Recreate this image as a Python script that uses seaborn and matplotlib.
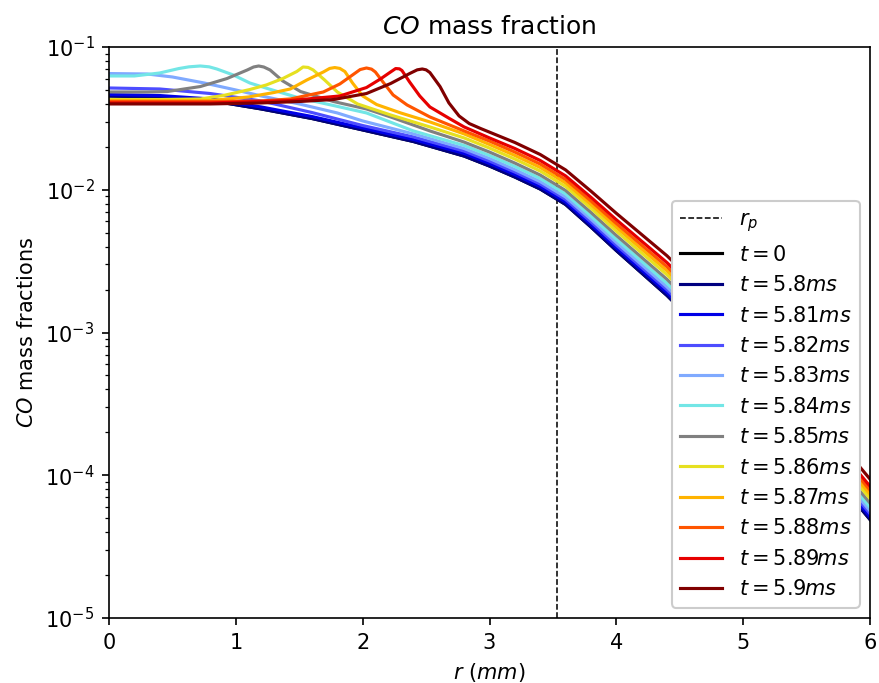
import numpy as np
import matplotlib
matplotlib.use("Agg")
import matplotlib.pyplot as plt
import seaborn as sns

# radial position of the particle surface (mm)
r_p = 3.53

labels = ["$t=0$", "$t=5.8ms$", "$t=5.81ms$", "$t=5.82ms$", "$t=5.83ms$",
          "$t=5.84ms$", "$t=5.85ms$", "$t=5.86ms$", "$t=5.87ms$",
          "$t=5.88ms$", "$t=5.89ms$", "$t=5.9ms$"]
colors = ["black", "#000080", "#0000e6", "#4d4dff", "#80aaff", "#73e6e6",
          "#808080", "#e6e020", "#ffb300", "#ff5500", "#e60000", "#800000"]

# r (mm) and log10(CO mass fraction)
r_580 = [0, 0.4, 0.8, 1.2, 1.6, 2.0, 2.4, 2.8, 3.0, 3.2, 3.4, 3.6, 3.8, 4.0,
         4.4, 5.0, 5.5, 6.0]
logy_580 = [-1.343, -1.350, -1.375, -1.434, -1.501, -1.581, -1.662, -1.764,
            -1.834, -1.911, -1.995, -2.103, -2.261, -2.426, -2.741, -3.273,
            -3.778, -4.310]

r_t0 = r_580
logy_t0 = logy_580

r_581 = [0, 0.4, 0.8, 1.2, 1.6, 2.0, 2.4, 2.8, 3.0, 3.2, 3.4, 3.6, 3.8, 4.0,
         4.4, 5.0, 5.5, 6.0]
logy_581 = [-1.333, -1.340, -1.364, -1.420, -1.487, -1.567, -1.648, -1.746,
            -1.816, -1.894, -1.978, -2.086, -2.243, -2.407, -2.721, -3.252,
            -3.757, -4.290]

r_582 = [0, 0.4, 0.8, 1.2, 1.6, 2.0, 2.4, 2.8, 3.0, 3.2, 3.4, 3.6, 3.8, 4.0,
         4.4, 5.0, 5.5, 6.0]
logy_582 = [-1.287, -1.294, -1.326, -1.378, -1.459, -1.550, -1.630, -1.729,
            -1.799, -1.876, -1.960, -2.068, -2.225, -2.388, -2.701, -3.232,
            -3.737, -4.269]

r_583 = [0, 0.3, 0.5, 0.75, 1.0, 1.2, 1.5, 1.8, 2.0, 2.4, 2.8, 3.0,
         3.2, 3.4, 3.6, 3.8, 4.0, 4.4, 5.0, 5.5, 6.0]
logy_583 = [-1.186, -1.189, -1.210, -1.252, -1.301, -1.343, -1.399, -1.462,
            -1.518, -1.609, -1.711, -1.781,
            -1.859, -1.943, -2.051, -2.206, -2.369, -2.681, -3.212, -3.717, -4.249]

r_584 = [0, 0.2, 0.4, 0.55, 0.63, 0.72, 0.79, 0.85, 0.98, 1.11, 1.25, 1.5,
         1.77, 2.03, 2.4, 2.8, 3.0, 3.2, 3.4, 3.6, 3.8, 4.0, 4.4, 5.0, 5.5, 6.0]
logy_584 = [-1.203, -1.203, -1.182, -1.151, -1.139, -1.133, -1.139, -1.154,
            -1.196, -1.252, -1.291, -1.357, -1.410, -1.462, -1.588, -1.690,
            -1.760, -1.837, -1.921, -2.029, -2.185, -2.347, -2.656, -3.187,
            -3.692, -4.224]

r_585 = [0, 0.3, 0.46, 0.72, 0.93, 1.09, 1.14, 1.18, 1.22, 1.27, 1.37, 1.51,
         1.77, 2.03, 2.22, 2.53, 2.8, 3.0, 3.2, 3.4, 3.6, 3.8, 4.0, 4.4, 5.0,
         5.5, 6.0]
logy_585 = [-1.315, -1.315, -1.312, -1.277, -1.221, -1.161, -1.140, -1.133,
            -1.140, -1.161, -1.238, -1.312, -1.382, -1.434, -1.490, -1.588,
            -1.666, -1.736, -1.813, -1.897, -2.005, -2.159, -2.320, -2.628,
            -3.158, -3.663, -4.195]

r_586 = [0, 0.4, 0.72, 0.9, 1.11, 1.24, 1.37, 1.48, 1.53, 1.57, 1.61, 1.7,
         1.8, 1.96, 2.22, 2.53, 2.8, 3.0, 3.2, 3.4, 3.6, 3.8, 4.0, 4.4, 5.0,
         5.5, 6.0]
logy_586 = [-1.368, -1.368, -1.364, -1.340, -1.298, -1.266, -1.221, -1.172,
            -1.140, -1.143, -1.161, -1.231, -1.315, -1.399, -1.476, -1.560,
            -1.637, -1.708, -1.785, -1.869, -1.977, -2.130, -2.290, -2.596,
            -3.126, -3.631, -4.163]

r_587 = [0, 0.4, 0.8, 1.1, 1.3, 1.43, 1.56, 1.69, 1.74, 1.78, 1.82, 1.86,
         1.92, 2.0, 2.11, 2.3, 2.53, 2.8, 3.0, 3.2, 3.4, 3.6, 3.8, 4.0, 4.4,
         5.0, 5.5, 6.0]
logy_587 = [-1.375, -1.375, -1.375, -1.350, -1.319, -1.294, -1.231, -1.175,
            -1.150, -1.144, -1.150, -1.172, -1.252, -1.343, -1.403, -1.462,
            -1.525, -1.609, -1.683, -1.760, -1.844, -1.952, -2.104, -2.263,
            -2.568, -3.097, -3.602, -4.134]

r_588 = [0, 0.8, 1.2, 1.43, 1.69, 1.82, 1.92, 1.98, 2.03, 2.07, 2.1, 2.16,
         2.24, 2.35, 2.53, 2.8, 3.0, 3.2, 3.4, 3.6, 3.8, 4.0, 4.4, 5.0, 5.5, 6.0]
logy_588 = [-1.382, -1.382, -1.378, -1.364, -1.315, -1.259, -1.196, -1.158,
            -1.147, -1.155, -1.175, -1.245, -1.336, -1.406, -1.490, -1.588,
            -1.659, -1.736, -1.820, -1.928, -2.079, -2.237, -2.540, -3.068,
            -3.573, -4.105]

r_589 = [0, 0.8, 1.43, 1.82, 2.03, 2.14, 2.22, 2.26, 2.29, 2.31, 2.37, 2.45,
         2.53, 2.69, 2.8, 3.0, 3.2, 3.4, 3.6, 3.8, 4.0, 4.4, 5.0, 5.5, 6.0]
logy_589 = [-1.392, -1.392, -1.375, -1.343, -1.284, -1.224, -1.175, -1.151,
            -1.153, -1.165, -1.245, -1.343, -1.420, -1.504, -1.560, -1.637,
            -1.711, -1.795, -1.903, -2.053, -2.210, -2.511, -3.040, -3.545, -4.077]

r_590 = [0, 0.8, 1.2, 1.5, 1.77, 2.03, 2.22, 2.37, 2.43, 2.47, 2.50, 2.53,
         2.61, 2.68, 2.76, 2.84, 2.93, 3.2, 3.4, 3.6, 3.8, 4.0, 4.4, 5.0, 5.5, 6.0]
logy_590 = [-1.399, -1.399, -1.392, -1.382, -1.368, -1.326, -1.256, -1.186,
            -1.160, -1.154, -1.160, -1.179, -1.277, -1.392, -1.483, -1.536,
            -1.571, -1.669, -1.753, -1.861, -2.010, -2.165, -2.463, -2.990,
            -3.495, -4.027]

series_r = [r_t0, r_580, r_581, r_582, r_583, r_584, r_585, r_586, r_587,
            r_588, r_589, r_590]
series_logy = [logy_t0, logy_580, logy_581, logy_582, logy_583, logy_584,
               logy_585, logy_586, logy_587, logy_588, logy_589, logy_590]

DPI = 150
fig = plt.figure(figsize=(879 / DPI, 683 / DPI), dpi=DPI)
ax = fig.add_axes([109 / 879, 1 - 618 / 683, (870 - 109) / 879, (618 - 47) / 683])

ax.axvline(r_p, color="black", linestyle="--", linewidth=0.75, label="$r_p$")
for r, ly, c, lab in zip(series_r, series_logy, colors, labels):
    sns.lineplot(x=r, y=10 ** np.array(ly), color=c, label=lab, ax=ax,
                 linewidth=1.5, sort=False)

ax.set_yscale("log")
ax.set_xlim(0, 6)
ax.set_ylim(1e-5, 1e-1)
ax.set_xticks([0, 1, 2, 3, 4, 5, 6])
ax.set_title("$CO$ mass fraction", fontsize=12)
ax.set_xlabel("$r$ $(mm)$")
ax.set_ylabel("$CO$ mass fractions")
ax.legend(loc="lower right", framealpha=1)

fig.savefig("out.png", dpi=DPI)
